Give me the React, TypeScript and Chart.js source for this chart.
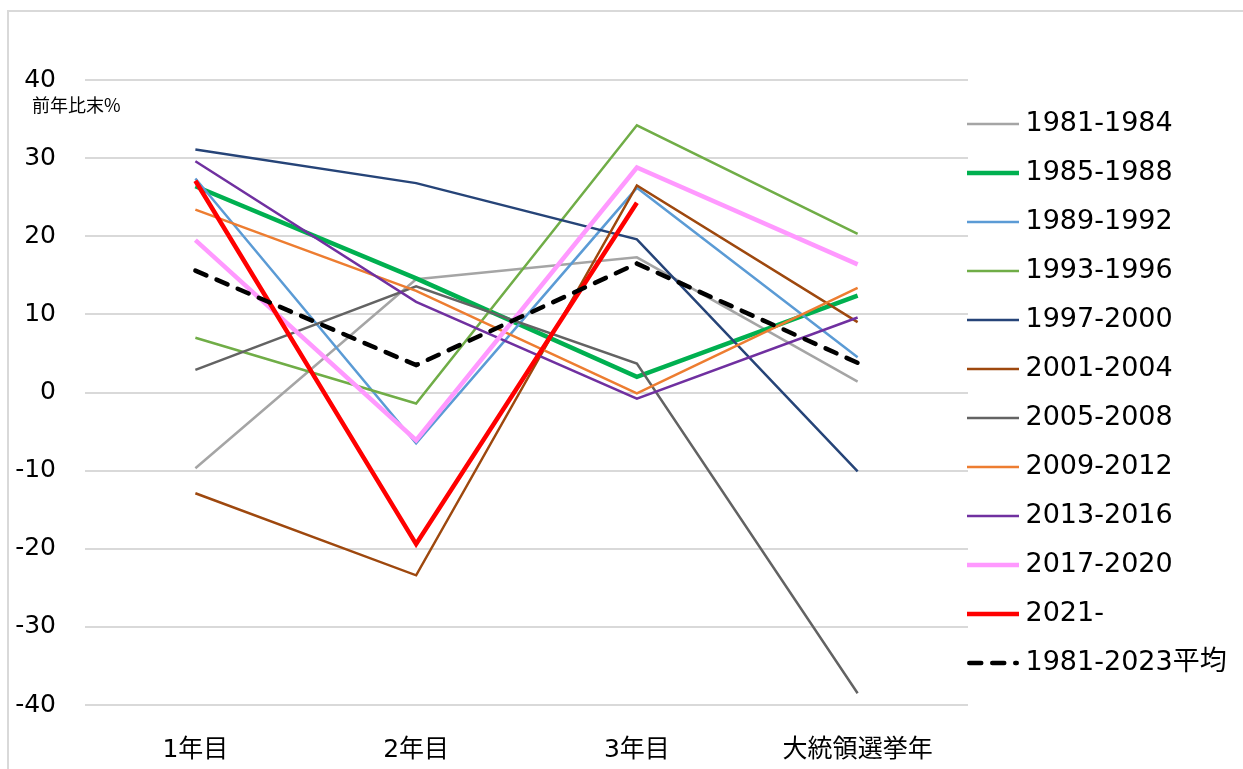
import React, { useEffect, useRef } from 'react';
import { Chart, registerables } from 'chart.js';

Chart.register(...registerables);

// ---- data ----
const categories = ['1年目', '2年目', '3年目', '大統領選挙年'];
const yTicks = [-40, -30, -20, -10, 0, 10, 20, 30, 40];
const unitLabel = '前年比末%';

const seriesNames = [
  '1981-1984', '1985-1988', '1989-1992', '1993-1996', '1997-2000', '2001-2004',
  '2005-2008', '2009-2012', '2013-2016', '2017-2020', '2021-', '1981-2023平均',
];

const s1981 = [-9.7, 14.5, 17.3, 1.4];
const s1985 = [26.4, 14.6, 2.0, 12.4];
const s1989 = [27.4, -6.5, 26.2, 4.5];
const s1993 = [7.0, -1.4, 34.2, 20.3];
const s1997 = [31.1, 26.8, 19.6, -10.1];
const s2001 = [-12.9, -23.4, 26.5, 9.0];
const s2005 = [2.9, 13.6, 3.7, -38.5];
const s2009 = [23.4, 13.0, -0.1, 13.4];
const s2013 = [29.6, 11.6, -0.8, 9.6];
const s2017 = [19.5, -6.1, 28.8, 16.4];
const s2021 = [27.1, -19.4, 24.3, null];
const sAvg = [15.6, 3.5, 16.5, 3.8];

const seriesValues = [s1981, s1985, s1989, s1993, s1997, s2001, s2005, s2009, s2013, s2017, s2021, sAvg];

// ---- styles ----
const seriesColors = [
  '#A5A5A5', '#00B050', '#5B9BD5', '#70AD47', '#264478', '#9E480E',
  '#636363', '#ED7D31', '#7030A0', '#FF99FF', '#FF0000', '#000000',
];
const seriesWidths = [2.5, 4.5, 2.5, 2.5, 2.5, 2.5, 2.5, 2.5, 2.5, 4.5, 4.5, 4.5];
const dashIndex = 11;
const dashPattern = [12, 11];

const FONT = "'DejaVu Sans', 'Noto Sans CJK JP', sans-serif";

function makeSample(color: string, width: number, dash: number[] | null) {
  const c = document.createElement('canvas');
  c.width = 52;
  c.height = 10;
  const ctx = c.getContext('2d')!;
  ctx.strokeStyle = color;
  ctx.lineWidth = width;
  ctx.beginPath();
  if (dash) {
    ctx.lineCap = 'round';
    ctx.setLineDash(dash);
    ctx.moveTo(width / 2, 5);
    ctx.lineTo(52 - width / 2, 5);
  } else {
    ctx.lineCap = 'butt';
    ctx.moveTo(0, 5);
    ctx.lineTo(52, 5);
  }
  ctx.stroke();
  return c;
}

const unitPlugin = {
  id: 'unitLabel',
  afterLayout(chart: any) {
    const lg = chart.legend;
    if (lg) {
      const pad = lg.options.labels.padding;
      const target = chart.chartArea.right + 6 - pad;
      const shift = target - lg.left;
      lg.left += shift;
      lg.right += shift;
      lg.top -= 28;
      lg.bottom -= 28;
    }
  },
  afterDraw(chart: any) {
    const ctx = chart.ctx;
    const y = chart.scales.y.getPixelForValue(40);
    ctx.save();
    ctx.font = "18px 'Noto Sans CJK JP', sans-serif";
    ctx.fillStyle = '#000000';
    ctx.textAlign = 'left';
    ctx.textBaseline = 'middle';
    ctx.fillText(unitLabel, 23, y + 25);
    ctx.restore();
  },
};

export default function App() {
  const ref = useRef<HTMLCanvasElement | null>(null);

  useEffect(() => {
    if (!ref.current) return;
    const samples = seriesNames.map((_, i) =>
      makeSample(seriesColors[i], seriesWidths[i], i === dashIndex ? dashPattern : null)
    );
    const chart = new Chart(ref.current, {
      type: 'line',
      data: {
        labels: categories,
        datasets: seriesNames.map((name, i) => ({
          label: name,
          data: seriesValues[i],
          borderColor: seriesColors[i],
          backgroundColor: seriesColors[i],
          borderWidth: seriesWidths[i],
          borderDash: i === dashIndex ? dashPattern : [],
          borderCapStyle: i === dashIndex ? 'round' : 'butt',
          pointRadius: 0,
          pointHoverRadius: 0,
          tension: 0,
          fill: false,
          order: -i,
        })),
      },
      options: {
        responsive: false,
        animation: false,
        events: [],
        layout: { padding: { top: 68, bottom: 6, left: 0, right: 0 } },
        plugins: {
          tooltip: { enabled: false },
          legend: {
            position: 'right',
            maxWidth: 275,
            labels: {
              usePointStyle: true,
              pointStyleWidth: 38,
              boxHeight: 10,
              padding: 22,
              color: '#000000',
              font: { family: FONT, size: 27 },
              generateLabels: () =>
                seriesNames.map((name, i) => ({
                  text: name,
                  fillStyle: seriesColors[i],
                  strokeStyle: seriesColors[i],
                  lineWidth: 0,
                  pointStyle: samples[i],
                  hidden: false,
                  datasetIndex: i,
                })),
            },
          },
        },
        scales: {
          x: {
            offset: true,
            afterFit: (scale: any) => { scale.height = 58; },
            grid: { display: false, drawTicks: false },
            border: { display: false },
            ticks: { color: '#000000', font: { family: FONT, size: 25 }, padding: 30, maxRotation: 0 },
          },
          y: {
            min: -40,
            max: 40,
            afterFit: (scale: any) => { scale.width = 76; },
            afterBuildTicks: (scale: any) => { scale.ticks = yTicks.map((v) => ({ value: v })); },
            grid: { color: '#D9D9D9', lineWidth: 2, drawTicks: false },
            border: { display: false },
            ticks: { color: '#000000', font: { family: FONT, size: 25 }, padding: 29 },
          },
        },
      },
      plugins: [unitPlugin],
    } as any);
    return () => chart.destroy();
  }, []);

  return (
    <div
      style={{
        position: 'fixed',
        left: 7,
        top: 10,
        width: 1236,
        height: 759,
        borderTop: '2px solid #D9D9D9',
        borderLeft: '2px solid #D9D9D9',
        background: '#ffffff',
      }}
    >
      <canvas ref={ref} width={1234} height={757} style={{ display: 'block' }} />
    </div>
  );
}
